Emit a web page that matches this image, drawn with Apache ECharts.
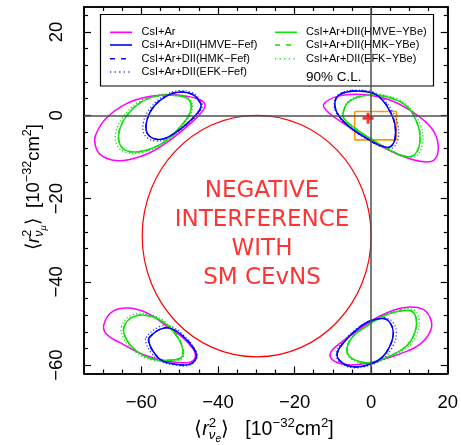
<!DOCTYPE html>
<html>
<head>
<meta charset="utf-8">
<script src="https://cdn.jsdelivr.net/npm/echarts@6/dist/echarts.min.js"></script>
<style>
  html, body { margin: 0; padding: 0; background: #fff; }
  #chart { width: 461px; height: 445px; }
</style>
</head>
<body>
<div id="chart"></div>
<script>
// ticks
const xMajorTicks = [-60, -40, -20, 0, 20];
const xMinorTicks = [-70, -65, -55, -50, -45, -35, -30, -25, -15, -10, -5, 5, 10, 15];
const yMajorTicks = [-60, -40, -20, 0, 20];
const yMinorTicks = [-56, -52, -48, -44, -36, -32, -28, -24, -16, -12, -8, -4, 4, 8, 12, 16, 24];

// 90% C.L. contours
// top left
const tlMagenta = [[-43.4,2.5],[-44.9,3.8],[-48.3,4.6],[-53.5,4.9],[-58.7,4.4],[-63.9,2.8],[-69.1,-0.6],[-71.9,-4.6],[-72.1,-7.0],[-70.8,-9.4],[-67.4,-10.8],[-63.0,-10.6],[-57.8,-9.0],[-52.6,-6.0],[-47.5,-2.2],[-44.4,0.6]];
const tlGreen = [[-47.0,2.6],[-48.3,4.2],[-51.8,4.8],[-56.1,4.6],[-60.4,3.0],[-63.9,-0.2],[-65.8,-3.8],[-65.6,-7.0],[-63.5,-8.6],[-59.6,-8.6],[-54.4,-6.6],[-50.1,-3.0],[-47.5,0.2]];
const tlGreenDot = [[-46.7,2.6],[-48.2,4.4],[-51.8,5.0],[-56.3,4.8],[-60.9,3.1],[-64.6,-0.2],[-66.6,-3.8],[-66.4,-7.1],[-64.0,-8.9],[-59.6,-8.9],[-54.2,-6.8],[-49.9,-3.1],[-47.2,0.2]];
const tlBlue = [[-44.9,3.4],[-46.6,5.0],[-50.1,5.6],[-53.5,4.6],[-57.0,1.8],[-58.7,-1.8],[-58.3,-4.6],[-55.7,-5.8],[-52.6,-5.0],[-48.3,-2.2],[-45.3,0.6],[-44.4,2.2]];
const tlBlueDot = [[-44.6,3.6],[-46.5,5.3],[-50.1,5.9],[-53.8,4.8],[-57.6,1.8],[-59.5,-1.8],[-59.1,-4.8],[-56.2,-6.2],[-52.6,-5.3],[-48.1,-2.4],[-45.0,0.6],[-44.1,2.2]];
// top right
const trMagenta = [[-12.4,2.6],[-8.5,4.6],[-2.4,5.0],[4.5,3.8],[10.5,1.0],[15.7,-3.0],[17.5,-7.0],[16.6,-10.6],[13.1,-11.1],[7.1,-9.4],[0.2,-6.2],[-6.8,-2.2],[-11.1,0.6]];
const trGreen = [[-7.2,1.0],[-5.9,3.2],[-2.4,4.6],[1.9,4.8],[6.2,3.8],[9.7,1.8],[12.3,-2.6],[12.7,-6.6],[11.4,-9.4],[9.2,-9.9],[5.4,-8.6],[0.2,-5.8],[-5.0,-2.6],[-7.2,-0.6]];
const trGreenDot = [[-7.3,1.0],[-6.0,3.3],[-2.4,4.8],[2.0,5.0],[6.5,4.0],[10.1,1.8],[13.0,-2.6],[13.4,-6.6],[12.0,-9.6],[9.4,-10.1],[5.4,-8.8],[0.2,-5.9],[-5.1,-2.7],[-7.4,-0.6]];
const trBlue = [[-5.0,5.8],[0.2,5.4],[2.8,3.8],[4.9,1.0],[6.2,-2.2],[6.2,-5.8],[4.9,-7.6],[2.8,-7.4],[-0.7,-5.8],[-5.9,-2.6],[-8.9,0.6],[-9.4,3.4],[-8.1,5.0]];
const trBlueDot = [[-5.0,6.0],[0.4,5.6],[3.2,3.9],[5.5,1.0],[7.0,-2.2],[7.0,-5.8],[5.5,-7.9],[3.0,-7.7],[-0.7,-6.0],[-6.0,-2.7],[-9.1,0.6],[-9.6,3.4],[-8.2,5.2]];
// bottom left
const blMagenta = [[-69.8,-50.2],[-67.4,-47.0],[-63.0,-46.3],[-57.8,-47.8],[-53.5,-50.6],[-49.2,-53.4],[-46.2,-56.6],[-46.2,-58.6],[-48.3,-59.4],[-53.5,-59.0],[-59.6,-57.4],[-65.6,-54.6],[-69.1,-52.6]];
const blGreen = [[-64.6,-51.0],[-62.2,-48.4],[-57.8,-48.2],[-53.5,-50.2],[-50.5,-53.4],[-49.2,-56.2],[-49.6,-58.2],[-52.6,-58.8],[-56.9,-58.6],[-61.3,-56.6],[-63.9,-53.8]];
const blGreenDot = [[-65.2,-50.8],[-62.6,-48.0],[-57.8,-47.8],[-53.3,-50.0],[-50.3,-53.4],[-49.0,-56.2],[-49.4,-58.4],[-52.6,-59.0],[-57.1,-58.8],[-61.6,-56.8],[-64.5,-53.8]];
const blBlue = [[-58.0,-53.4],[-55.2,-51.4],[-52.6,-51.1],[-49.2,-53.0],[-46.2,-56.2],[-45.7,-58.2],[-47.5,-59.8],[-50.9,-59.8],[-54.8,-58.8],[-57.0,-56.6],[-58.0,-54.6]];
const blBlueDot = [[-58.8,-53.4],[-55.6,-50.9],[-52.6,-50.6],[-49.0,-52.8],[-46.0,-56.2],[-45.5,-58.2],[-47.5,-60.0],[-51.0,-60.0],[-55.2,-59.0],[-57.6,-56.8],[-58.8,-54.6]];
// bottom right
const brMagenta = [[8.4,-46.2],[13.6,-46.6],[15.7,-49.4],[15.3,-52.2],[12.7,-55.0],[8.4,-57.0],[3.2,-58.6],[-2.9,-59.8],[-7.2,-59.8],[-10.2,-58.6],[-10.6,-57.0],[-8.5,-55.0],[-3.7,-51.8],[2.3,-48.2]];
const brGreen = [[7.5,-47.0],[10.5,-47.0],[11.8,-49.0],[11.4,-52.2],[9.2,-55.4],[4.9,-57.8],[-0.3,-59.4],[-4.6,-58.6],[-6.3,-56.6],[-5.0,-53.4],[-1.1,-50.6],[3.2,-48.2]];
const brGreenDot = [[7.7,-46.6],[11.2,-46.8],[12.5,-49.0],[12.1,-52.2],[9.6,-55.6],[5.0,-58.0],[-0.3,-59.6],[-4.7,-58.8],[-6.4,-56.6],[-5.0,-53.2],[-1.0,-50.4],[3.3,-48.0]];
const brBlue = [[3.2,-48.8],[4.9,-49.8],[5.8,-52.2],[4.9,-55.4],[2.8,-58.2],[-0.3,-59.8],[-4.6,-60.4],[-7.6,-59.4],[-8.9,-57.4],[-7.2,-54.6],[-3.7,-51.4],[-0.3,-49.4]];
const brBlueDot = [[3.4,-48.6],[5.6,-49.6],[6.6,-52.2],[5.6,-55.6],[3.2,-58.4],[-0.3,-60.0],[-4.6,-60.6],[-7.8,-59.6],[-9.1,-57.4],[-7.4,-54.4],[-3.7,-51.2],[-0.1,-49.2]];

// other marks
const circleCenter = [-29.9, -29];
const circleRadius = [29.9, 29];
const bestFit = [-0.8, -0.7];
const boxX = [-4.3, 6.6];
const boxY = [-5.9, 0.9];
const textCenter = [-28.5, -28.7];
const textLines = ['NEGATIVE', 'INTERFERENCE', 'WITH', 'SM CEvNS'];

const legendLeft = [
  { label: 'CsI+Ar', color: '#ff00ff', dash: null },
  { label: 'CsI+Ar+DII(HMVE\u2212Fef)', color: '#0000ff', dash: null },
  { label: 'CsI+Ar+DII(HMK\u2212Fef)', color: '#0000ff', dash: [5, 6] },
  { label: 'CsI+Ar+DII(EFK\u2212Fef)', color: '#3030ff', dash: [1.2, 3.4] }
];
const legendRight = [
  { label: 'CsI+Ar+DII(HMVE\u2212YBe)', color: '#10e010', dash: null },
  { label: 'CsI+Ar+DII(HMK\u2212YBe)', color: '#10e010', dash: [5, 6] },
  { label: 'CsI+Ar+DII(EFK\u2212YBe)', color: '#10e010', dash: [1.2, 3.4] }
];

const MAGENTA = '#ff00ff', BLUE = '#0000ff', GREEN = '#10e010';
const DASH = [5, 4], DOT = [1.2, 2.2];
const FONT = 'Liberation Sans';

function contour(pts, color, dash, width) {
  return {
    type: 'custom',
    coordinateSystem: 'cartesian2d',
    xAxisIndex: 0, yAxisIndex: 0,
    silent: true,
    data: pts,
    renderItem: function (params, api) {
      if (params.dataIndex !== 0) return null;
      return {
        type: 'polygon',
        shape: { points: pts.map(p => api.coord(p)), smooth: 0.4 },
        style: { fill: 'none', stroke: color, lineWidth: width || 1.5, lineDash: dash || null }
      };
    }
  };
}

const minus = v => (v < 0 ? '\u2212' + (-v) : String(v));

function xAxisDef(pos, ticks, len, labels) {
  return {
    type: 'value', min: -75, max: 20, position: pos, gridIndex: 0,
    axisLine: { show: true, onZero: false, lineStyle: { color: '#000', width: 1.6 } },
    axisTick: { show: true, inside: true, length: len, customValues: ticks, lineStyle: { color: '#000', width: 1.2 } },
    axisLabel: labels ? { show: true, customValues: ticks, formatter: minus, fontSize: 18.5, fontFamily: FONT, color: '#000', margin: 20 } : { show: false },
    splitLine: { show: false }
  };
}
function yAxisDef(pos, ticks, len, labels) {
  return {
    type: 'value', min: -62, max: 26, position: pos, gridIndex: 0,
    axisLine: { show: true, onZero: false, lineStyle: { color: '#000', width: 1.6 } },
    axisTick: { show: true, inside: true, length: len, customValues: ticks, lineStyle: { color: '#000', width: 1.2 } },
    axisLabel: labels ? { show: true, rotate: 90, customValues: ticks, formatter: minus, fontSize: 18.5, fontFamily: FONT, color: '#000', margin: 18 } : { show: false },
    splitLine: { show: false }
  };
}

// axis titles with stacked super/subscripts
const mctx = document.createElement('canvas').getContext('2d');
function tw(str, font) { mctx.font = font; return mctx.measureText(str).width; }
function titleChildren(subMain, subSmall, big, gap) {
  const sm = big * 0.68, tiny = big * 0.52;
  const f = (s, it) => (it ? 'italic ' : '') + s + 'px "' + FONT + '"';
  const pieces = [
    [{ t: '\u27e8', fs: big }],
    [{ t: 'r', fs: big, it: true }],
    [{ t: '2', fs: sm, dy: -8 }, { t: subMain, fs: sm, dy: 4, it: true, next: { t: subSmall, fs: tiny, dy: 7, it: true } }],
    [{ t: '\u27e9' + gap + '[10', fs: big }],
    [{ t: '\u221232', fs: sm, dy: -8 }],
    [{ t: 'cm', fs: big }],
    [{ t: '2', fs: sm, dy: -8 }],
    [{ t: ']', fs: big }]
  ];
  const items = [];
  let x = 0;
  pieces.forEach(stack => {
    let adv = 0;
    stack.forEach(p => {
      let w = tw(p.t, f(p.fs, p.it));
      items.push({ t: p.t, x: x, fs: p.fs, it: p.it, dy: p.dy || 0 });
      if (p.next) {
        items.push({ t: p.next.t, x: x + w, fs: p.next.fs, it: p.next.it, dy: p.next.dy });
        w += tw(p.next.t, f(p.next.fs, p.next.it));
      }
      adv = Math.max(adv, w);
    });
    x += adv;
  });
  const total = x;
  return items.map(it => ({
    type: 'text',
    style: {
      text: it.t, x: it.x - total / 2, y: it.dy - 0.34 * it.fs,
      font: f(it.fs, it.it), fill: '#000', verticalAlign: 'middle', align: 'left'
    }
  }));
}

// legend drawn as graphics
function legendChildren() {
  const kids = [{
    type: 'rect', shape: { x: 100.5, y: 14.5, width: 333, height: 71.5 },
    style: { fill: '#fff', stroke: '#000', lineWidth: 1.2 }
  }];
  const rowsL = [32.3, 45, 58.7, 72];
  const rowsR = [32.3, 45, 58.7];
  const add = (item, y, x1, x2, xt) => {
    kids.push({ type: 'line', shape: { x1: x1, y1: y, x2: x2, y2: y },
      style: { stroke: item.color, lineWidth: 1.6, lineDash: item.dash } });
    kids.push({ type: 'text', style: { text: item.label, x: xt, y: y, font: '11px "' + FONT + '"',
      fill: '#000', verticalAlign: 'middle', align: 'left' } });
  };
  legendLeft.forEach((it, i) => add(it, rowsL[i], 110, 132, 141.5));
  legendRight.forEach((it, i) => add(it, rowsR[i], 275, 297, 306));
  kids.push({ type: 'text', style: { text: '90% C.L.', x: 306, y: 77, font: '13.5px "' + FONT + '"',
    fill: '#000', verticalAlign: 'middle', align: 'left' } });
  return kids;
}

const chart = echarts.init(document.getElementById('chart'), null, { renderer: 'canvas' });

const series = [
  // zero lines and the orange box
  {
    type: 'line', silent: true, symbol: 'none',
    data: [[boxX[0], boxY[1]], [boxX[1], boxY[1]], [boxX[1], boxY[0]], [boxX[0], boxY[0]], [boxX[0], boxY[1]]],
    lineStyle: { color: '#ff9900', width: 1.6 },
    markLine: {
      silent: true, symbol: ['none', 'none'], label: { show: false },
      lineStyle: { color: '#505050', width: 1.5, type: 'solid' },
      data: [{ xAxis: 0 }, { yAxis: 0 }]
    },
    z: 1
  },
  {
    type: 'custom', coordinateSystem: 'cartesian2d', silent: true,
    data: [circleCenter],
    renderItem: function (params, api) {
      const c = api.coord(circleCenter);
      const s = api.size(circleRadius);
      return {
        type: 'ellipse',
        shape: { cx: c[0], cy: c[1], rx: s[0], ry: s[1] },
        style: { fill: 'none', stroke: '#ff0000', lineWidth: 1.2 }
      };
    }
  },
  // dotted
  contour(tlBlueDot, '#3030ff', DOT, 1.3), contour(tlGreenDot, GREEN, DOT, 1.3),
  contour(trBlueDot, '#3030ff', DOT, 1.3), contour(trGreenDot, GREEN, DOT, 1.3),
  contour(blBlueDot, '#3030ff', DOT, 1.3), contour(blGreenDot, GREEN, DOT, 1.3),
  contour(brBlueDot, '#3030ff', DOT, 1.3), contour(brGreenDot, GREEN, DOT, 1.3),
  // dashed
  contour(tlBlue, BLUE, DASH), contour(tlGreen, GREEN, DASH),
  contour(trBlue, BLUE, DASH), contour(trGreen, GREEN, DASH),
  contour(blBlue, BLUE, DASH), contour(blGreen, GREEN, DASH),
  contour(brBlue, BLUE, DASH), contour(brGreen, GREEN, DASH),
  // solid
  contour(tlMagenta, MAGENTA), contour(trMagenta, MAGENTA), contour(blMagenta, MAGENTA), contour(brMagenta, MAGENTA),
  contour(tlGreen, GREEN), contour(trGreen, GREEN), contour(blGreen, GREEN), contour(brGreen, GREEN),
  contour(tlBlue, BLUE), contour(trBlue, BLUE), contour(blBlue, BLUE), contour(brBlue, BLUE),
  // best fit cross
  {
    type: 'scatter', silent: true, data: [bestFit],
    symbol: 'path://M4,0h3v4h4v3h-4v4h-3v-4h-4v-3h4z', symbolSize: 11,
    itemStyle: { color: '#ff0000' }, z: 5
  },
  // annotation
  {
    type: 'scatter', silent: true, data: [textCenter], symbolSize: 0,
    label: {
      show: true, position: 'inside', formatter: textLines.join('\n'),
      fontFamily: 'DejaVu Sans', fontSize: 23, lineHeight: 29, color: '#ff0000', align: 'center'
    }
  }
];

chart.setOption({
  animation: false,
  backgroundColor: '#fff',
  grid: { left: 84, right: 11, top: 7, bottom: 71.5, containLabel: false },
  xAxis: [
    xAxisDef('bottom', xMajorTicks, 7, true),
    xAxisDef('top', xMajorTicks, 7, false),
    xAxisDef('bottom', xMinorTicks, 4, false),
    xAxisDef('top', xMinorTicks, 4, false)
  ],
  yAxis: [
    yAxisDef('left', yMajorTicks, 7, true),
    yAxisDef('right', yMajorTicks, 7, false),
    yAxisDef('left', yMinorTicks, 4, false),
    yAxisDef('right', yMinorTicks, 4, false)
  ],
  graphic: [
    { type: 'group', x: 264, y: 436, silent: true, children: titleChildren('\u03bd', 'e', 19.5, '   ') },
    { type: 'group', x: 40, y: 187, rotation: Math.PI / 2, silent: true, children: titleChildren('\u03bd', '\u03bc', 18.5, '  ') }
  ].concat([{ type: 'group', silent: true, z: 100, children: legendChildren() }]),
  series: series
});
</script>
</body>
</html>
